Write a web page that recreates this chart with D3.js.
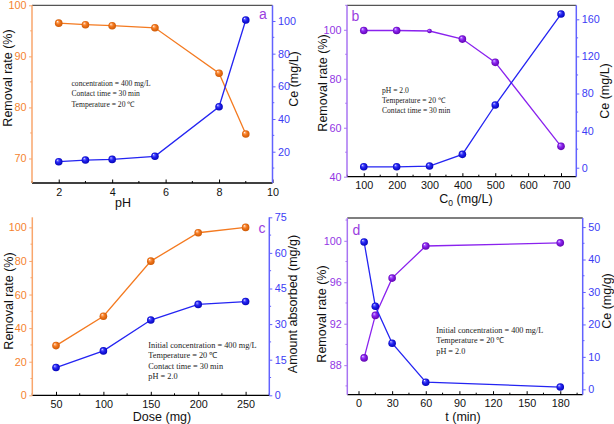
<!DOCTYPE html>
<html><head><meta charset="utf-8">
<script src="https://cdn.jsdelivr.net/npm/d3@7"></script>
<style>body{margin:0;background:#fff}svg{display:block}</style>
</head><body><svg id="chart" width="614" height="424"></svg>
<script>
// ---------- data ----------
const phValues   = [2, 3, 4, 5.6, 8, 9];
const phRemoval  = [96.5, 96.2, 96.0, 95.6, 86.7, 74.8];
const phCe       = [13.9, 14.9, 15.3, 17.2, 47.5, 100.6];

const c0Values   = [100, 200, 300, 400, 500, 700];
const c0Removal  = [99.7, 99.7, 99.5, 96.2, 86.7, 52.4];
const c0Ce       = [1, 1, 1.8, 14.4, 67.6, 165.7];

const doseValues  = [50, 100, 150, 200, 250];
const doseRemoval = [29.6, 47.1, 79.9, 96.8, 100];
const doseAmount  = [11.7, 18.7, 31.7, 38.3, 39.5];

const timeValues  = [5, 15, 30, 60, 180];
const timeRemoval = [88.7, 92.8, 96.4, 99.5, 99.8];
const timeCe      = [45.4, 25.6, 14.2, 2.2, 0.7];

const ticksAx = [2, 4, 6, 8, 10],  ticksAl = [70, 80, 90, 100],   ticksAr = [20, 40, 60, 80, 100];
const ticksBx = [100, 200, 300, 400, 500, 600, 700], ticksBl = [40, 60, 80, 100], ticksBr = [0, 40, 80, 120, 160];
const ticksCx = [50, 100, 150, 200, 250], ticksCl = [0, 20, 40, 60, 80, 100], ticksCr = [0, 15, 30, 45, 60, 75];
const ticksDx = [0, 30, 60, 90, 120, 150, 180], ticksDl = [88, 92, 96, 100], ticksDr = [0, 10, 20, 30, 40, 50];

const notesA = ["concentration = 400 mg/L", "Contact time = 30 min", "Temperature = 20 ℃"];
const notesB = ["pH = 2.0", "Temperature = 20 ℃", "Contact time = 30 min"];
const notesC = ["Initial concentration = 400 mg/L", "Temperature = 20 ℃", "Contact time = 30 min", "pH = 2.0"];
const notesD = ["Initial concentration = 400 mg/L", "Temperature = 20 ℃", "pH = 2.0"];

// ---------- styles ----------
const COL = {
  orange: {line: "#f47a20", axis: "#f9a66c", text: "#f5822e", hi: "#ffb27a", dark: "#c85400"},
  blue:   {line: "#2424f2", axis: "#6262ff", text: "#3c3cf5", hi: "#7070ff", dark: "#0000b0"},
  purple: {line: "#8a22ee", axis: "#a874f2", text: "#9236e4", hi: "#b070ff", dark: "#5a00a8"}
};
const svg = d3.select("#chart");
const defs = svg.append("defs");
Object.entries(COL).forEach(([k, c]) => {
  const g = defs.append("radialGradient").attr("id", "g-" + k)
    .attr("cx", "50%").attr("cy", "50%").attr("r", "55%").attr("fx", "32%").attr("fy", "28%");
  g.append("stop").attr("offset", "0%").attr("stop-color", "#ffffff");
  g.append("stop").attr("offset", "18%").attr("stop-color", c.hi);
  g.append("stop").attr("offset", "45%").attr("stop-color", c.line);
  g.append("stop").attr("offset", "100%").attr("stop-color", c.dark);
});

const SANS = "'Liberation Sans', Arial, sans-serif";
const SERIF = "'Liberation Serif', 'Times New Roman', serif";

function minorsOf(ticks, domain) {
  const step = ticks[1] - ticks[0];
  const lo = Math.min(domain[0], domain[1]), hi = Math.max(domain[0], domain[1]);
  const out = [];
  for (let v = ticks[0] - step / 2; v <= hi + 1e-9; v += step) if (v >= lo - 1e-9) out.push(v);
  return out;
}

function drawPanel(p) {
  const g = svg.append("g");
  const x = d3.scaleLinear().domain(p.xDomain).range([p.x0, p.x1]);
  const yl = d3.scaleLinear().domain(p.lDomain).range([p.y1, p.y0]);
  const yr = d3.scaleLinear().domain(p.rDomain).range([p.y1, p.y0]);
  const lc = COL[p.lColor], rc = COL[p.rColor];

  if (p.top) g.append("line").attr("x1", p.x0).attr("x2", p.x1).attr("y1", p.y0).attr("y2", p.y0)
    .attr("stroke", "#555").attr("stroke-width", 1.3);

  // bottom axis
  const bx = g.append("g").attr("transform", `translate(0,${p.y1})`)
    .call(d3.axisBottom(x).tickValues(p.xTicks).tickSizeInner(-3.5).tickSizeOuter(0).tickPadding(5));
  bx.select(".domain").attr("d", `M${p.x0},0H${p.x1}`).attr("stroke", "#000").attr("stroke-width", 1.3);
  bx.selectAll(".tick line").attr("stroke", "#000").attr("stroke-width", 1);
  bx.selectAll(".tick text").attr("font-family", SANS).attr("font-size", 10.8).attr("fill", "#111").attr("dy", "0.71em");
  bx.selectAll(".mnr").data(minorsOf(p.xTicks, p.xDomain)).join("line")
    .attr("x1", d => x(d)).attr("x2", d => x(d)).attr("y1", 0).attr("y2", -2).attr("stroke", "#000");

  // left axis
  const la = g.append("g").attr("transform", `translate(${p.x0},0)`)
    .call(d3.axisLeft(yl).tickValues(p.lTicks).tickSizeInner(3).tickSizeOuter(0).tickPadding(2.5));
  la.select(".domain").attr("d", `M0,${p.y0}V${p.y1}`).attr("stroke", lc.axis).attr("stroke-width", 1.5);
  la.selectAll(".tick line").attr("stroke", lc.axis);
  la.selectAll(".tick text").attr("font-family", SANS).attr("font-size", 10.8).attr("fill", lc.text);
  la.selectAll(".mnr").data(minorsOf(p.lTicks, p.lDomain)).join("line")
    .attr("y1", d => yl(d)).attr("y2", d => yl(d)).attr("x1", 0).attr("x2", -1.8).attr("stroke", lc.axis);

  // right axis
  const ra = g.append("g").attr("transform", `translate(${p.x1},0)`)
    .call(d3.axisRight(yr).tickValues(p.rTicks).tickSizeInner(3).tickSizeOuter(0).tickPadding(2.5));
  ra.select(".domain").attr("d", `M0,${p.y0}V${p.y1}`).attr("stroke", rc.axis).attr("stroke-width", 1.5);
  ra.selectAll(".tick line").attr("stroke", rc.axis);
  ra.selectAll(".tick text").attr("font-family", SANS).attr("font-size", 10.8).attr("fill", rc.text);
  ra.selectAll(".mnr").data(minorsOf(p.rTicks, p.rDomain)).join("line")
    .attr("y1", d => yr(d)).attr("y2", d => yr(d)).attr("x1", 0).attr("x2", 1.8).attr("stroke", rc.axis);

  // titles
  const xt = g.append("text").attr("x", p.xTitle[1]).attr("y", p.xTitle[2])
    .attr("text-anchor", "middle").attr("font-family", SANS).attr("font-size", 12.5).attr("fill", "#111");
  if (p.xSub) {
    xt.append("tspan").text(p.xTitle[0]);
    xt.append("tspan").text(p.xSub).attr("font-size", 8.5).attr("dy", 3);
    xt.append("tspan").text(p.xTail).attr("dy", -3);
  } else xt.text(p.xTitle[0]);
  [p.lTitle, p.rTitle].forEach(t => {
    g.append("text").attr("transform", `translate(${t[1]},${t[2]}) rotate(-90)`)
      .attr("text-anchor", "middle").attr("dy", "0.35em")
      .attr("font-family", SANS).attr("font-size", 12.5).attr("fill", "#111").text(t[0]);
  });

  // series
  const series = [
    {xs: p.xs, ys: p.ls, sc: yl, c: p.lSeries},
    {xs: p.xs, ys: p.rs, sc: yr, c: p.rSeries}
  ];
  series.forEach((s, si) => {
    const pts = s.xs.map((v, i) => [x(v), s.sc(s.ys[i])]);
    g.append("path").attr("d", d3.line()(pts)).attr("fill", "none")
      .attr("stroke", COL[s.c].line).attr("stroke-width", 1.3);
    g.selectAll(null).data(pts).join("circle")
      .attr("cx", d => d[0]).attr("cy", d => d[1])
      .attr("r", (d, i) => (si === 0 && p.smallIdx === i) ? 2.3 : 3.8)
      .attr("fill", `url(#g-${s.c})`);
  });

  // notes
  p.notes.forEach((t, i) => {
    g.append("text").attr("x", p.noteX).attr("y", p.noteY + i * p.noteDy)
      .attr("font-family", SERIF).attr("font-size", p.noteSize).attr("fill", "#222").text(t);
  });

  g.append("text").attr("x", p.letter[1]).attr("y", p.letter[2])
    .attr("text-anchor", "middle").attr("font-family", SANS).attr("font-size", 14)
    .attr("fill", "#9a3ee0").text(p.letter[0]);
}

drawPanel({
  x0: 32, x1: 272.5, y0: 5.3, y1: 183, top: true,
  xDomain: [1, 10], xTicks: ticksAx,
  lDomain: [65.2, 100], lTicks: ticksAl, rDomain: [0.85, 109.6], rTicks: ticksAr,
  lColor: "orange", rColor: "blue", lSeries: "orange", rSeries: "blue",
  xs: phValues, ls: phRemoval, rs: phCe,
  xTitle: ["pH", 123, 207], lTitle: ["Removal rate (%)", 8, 78], rTitle: ["Ce (mg/L)", 294, 79],
  notes: notesA, noteX: 71.5, noteY: 86, noteDy: 10.3, noteSize: 7.6,
  letter: ["a", 263, 19]
});
drawPanel({
  x0: 347, x1: 576.3, y0: 5.3, y1: 176.7, top: true,
  xDomain: [49, 746.5], xTicks: ticksBx,
  lDomain: [40, 110], lTicks: ticksBl, rDomain: [-9.7, 175.1], rTicks: ticksBr,
  lColor: "purple", rColor: "blue", lSeries: "purple", rSeries: "blue",
  xs: c0Values, ls: c0Removal, rs: c0Ce, smallIdx: 2,
  xTitle: ["C", 466, 203], xSub: "0", xTail: " (mg/L)",
  lTitle: ["Removal rate (%)", 323, 83], rTitle: ["Ce (mg/L)", 604.5, 91],
  notes: notesB, noteX: 382, noteY: 92.5, noteDy: 10, noteSize: 7.6,
  letter: ["b", 355.5, 21]
});
drawPanel({
  x0: 32.3, x1: 269.3, y0: 217.3, y1: 395.3, top: false,
  xDomain: [25, 275], xTicks: ticksCx,
  lDomain: [0, 106], lTicks: ticksCl, rDomain: [0, 75], rTicks: ticksCr,
  lColor: "orange", rColor: "blue", lSeries: "orange", rSeries: "blue",
  xs: doseValues, ls: doseRemoval, rs: doseAmount,
  xTitle: ["Dose (mg)", 162, 420.5], lTitle: ["Removal rate (%)", 8.5, 301], rTitle: ["Amount absorbed (mg/g)", 293, 304],
  notes: notesC, noteX: 148.3, noteY: 348, noteDy: 10.3, noteSize: 8.3,
  letter: ["c", 262, 233]
});
drawPanel({
  x0: 347.3, x1: 582.7, y0: 218, y1: 394.7, top: true,
  xDomain: [-10, 200], xTicks: ticksDx,
  lDomain: [85.15, 102.2], lTicks: ticksDl, rDomain: [-1.66, 52.8], rTicks: ticksDr,
  lColor: "purple", rColor: "blue", lSeries: "purple", rSeries: "blue",
  xs: timeValues, ls: timeRemoval, rs: timeCe,
  xTitle: ["t (min)", 463, 420.5], lTitle: ["Removal rate (%)", 322, 314], rTitle: ["Ce (mg/g)", 606.5, 301],
  notes: notesD, noteX: 436.3, noteY: 333, noteDy: 10.3, noteSize: 8.2,
  letter: ["d", 356.5, 235]
});
</script></body></html>
